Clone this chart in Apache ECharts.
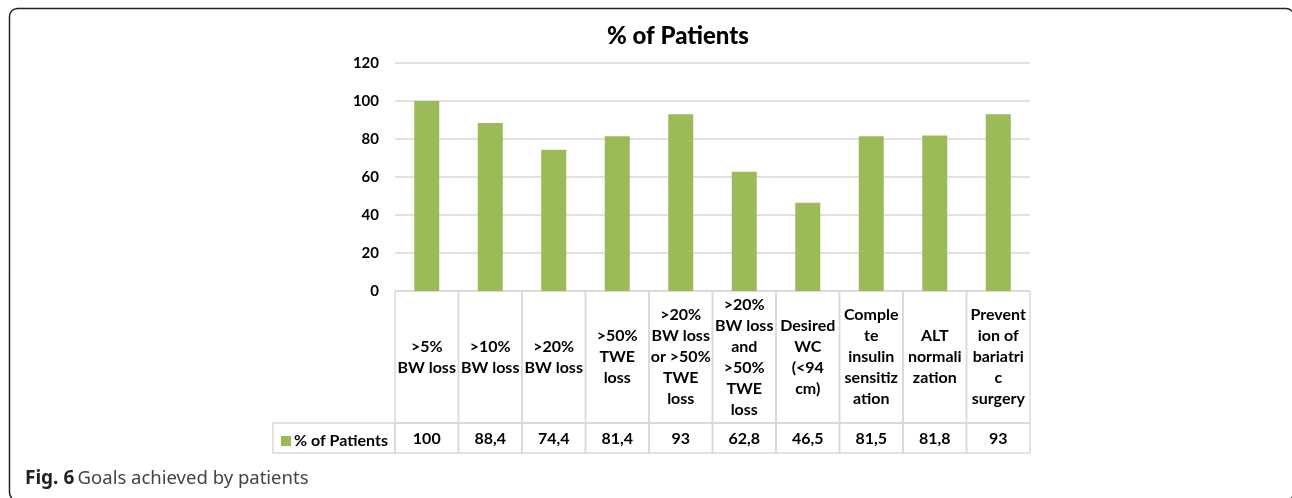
<!DOCTYPE html>
<html>
<head>
<meta charset="utf-8">
<script src="https://cdn.jsdelivr.net/npm/echarts@6/dist/echarts.min.js"></script>
<style>
  html, body { margin: 0; padding: 0; background: #fff; }
  #chart { width: 1292px; height: 498px; }
</style>
</head>
<body>
<div id="chart"></div>
<script>
// chart data
const seriesName = '% of Patients';
const categories = [
  '>5%\nBW loss',
  '>10%\nBW loss',
  '>20%\nBW loss',
  '>50%\nTWE\nloss',
  '>20%\nBW loss\nor >50%\nTWE\nloss',
  '>20%\nBW loss\nand\n>50%\nTWE\nloss',
  'Desired\nWC\n(<94\ncm)',
  'Comple\nte\ninsulin\nsensitiz\nation',
  'ALT\nnormali\nzation',
  'Prevent\nion of\nbariatri\nc\nsurgery'
];
const patients = [100, 88.4, 74.4, 81.4, 93, 62.8, 46.5, 81.5, 81.8, 93];
const yTicks = [0, 20, 40, 60, 80, 100, 120];

const chart = echarts.init(document.getElementById('chart'));

const plotLeft = 395, plotRight = 1030;
const labelRowH = 132, valueRowH = 30;
const legendCellW = 122;
const gridColor = '#d9d9d9';
const barColor = '#9bbb59';
const font = 'Lato, "Open Sans", sans-serif';

const option = {
  animation: false,
  title: {
    text: seriesName,
    left: 673,
    top: 19,
    textAlign: 'center',
    textStyle: { fontFamily: font, fontSize: 24, fontWeight: 900, color: '#000' }
  },
  legend: {
    data: [seriesName],
    left: 276,
    top: 428,
    icon: 'rect',
    itemWidth: 10,
    itemHeight: 10,
    itemGap: 4,
    textStyle: { fontFamily: font, fontSize: 16, fontWeight: 'bold', color: '#000', padding: [0, 0, 0, -2] }
  },
  grid: [
    { left: plotLeft, right: 1292 - plotRight, top: 63, bottom: 498 - 291 },
    { left: plotLeft, right: 1292 - plotRight, top: 291, height: labelRowH + valueRowH }
  ],
  xAxis: [
    {
      type: 'category', gridIndex: 0, data: categories,
      axisLine: { show: false }, axisTick: { show: false }, axisLabel: { show: false }
    },
    {
      type: 'category', gridIndex: 1, data: categories, show: false
    }
  ],
  yAxis: [
    {
      type: 'value', gridIndex: 0, min: yTicks[0], max: yTicks[yTicks.length - 1], interval: 20,
      axisLine: { show: false }, axisTick: { show: false },
      axisLabel: { fontFamily: font, fontSize: 15, fontWeight: 'bold', color: '#000', margin: 16 },
      splitLine: { lineStyle: { color: gridColor, width: 1.5 } }
    },
    {
      type: 'value', gridIndex: 1, min: 0, max: 1, show: false
    }
  ],
  series: [
    {
      name: seriesName,
      type: 'bar',
      xAxisIndex: 0, yAxisIndex: 0,
      data: patients,
      barWidth: 25,
      itemStyle: { color: barColor }
    },
    {
      type: 'custom',
      xAxisIndex: 1, yAxisIndex: 1,
      clip: false,
      data: patients.map((v, i) => [i, v]),
      renderItem: function (params, api) {
        const idx = api.value(0);
        const val = api.value(1);
        const cx = api.coord([idx, 0])[0];
        const w = api.size([1, 0])[0];
        const top = params.coordSys.y;
        const x0 = cx - w / 2;
        const line = { stroke: gridColor, lineWidth: 1.5, fill: null };
        const children = [
          { type: 'rect', shape: { x: x0, y: top, width: w, height: labelRowH }, style: line },
          { type: 'rect', shape: { x: x0, y: top + labelRowH, width: w, height: valueRowH }, style: line },
          {
            type: 'text',
            style: {
              x: cx, y: top + labelRowH / 2,
              text: categories[idx],
              align: 'center', verticalAlign: 'middle',
              font: 'bold 16px ' + font, lineHeight: 21, fill: '#000'
            }
          },
          {
            type: 'text',
            style: {
              x: cx, y: top + labelRowH + valueRowH / 2 + 1,
              text: String(val).replace('.', ','),
              align: 'center', verticalAlign: 'middle',
              font: 'bold 16px ' + font, fill: '#000'
            }
          }
        ];
        if (idx === 0) {
          children.push({
            type: 'rect',
            shape: { x: x0 - legendCellW, y: top + labelRowH, width: legendCellW, height: valueRowH },
            style: line
          });
        }
        return { type: 'group', children: children };
      }
    }
  ],
  graphic: [
    {
      type: 'rect',
      shape: { x: 9.5, y: 8.5, width: 1284.5, height: 492, r: 8 },
      style: { fill: null, stroke: '#222', lineWidth: 1.5 },
      silent: true
    },
    {
      type: 'text',
      left: 25,
      top: 469,
      style: {
        text: '{b|Fig. 6} {n|Goals achieved by patients}',
        rich: {
          b: { fontFamily: '"Noto Sans", sans-serif', fontSize: 19, fontWeight: 'bold', fill: '#222' },
          n: { fontFamily: '"Noto Sans", sans-serif', fontSize: 18.5, fontWeight: 'normal', fill: '#444' }
        }
      }
    }
  ]
};

chart.setOption(option);
window.addEventListener('resize', () => chart.resize());
</script>
</body>
</html>
